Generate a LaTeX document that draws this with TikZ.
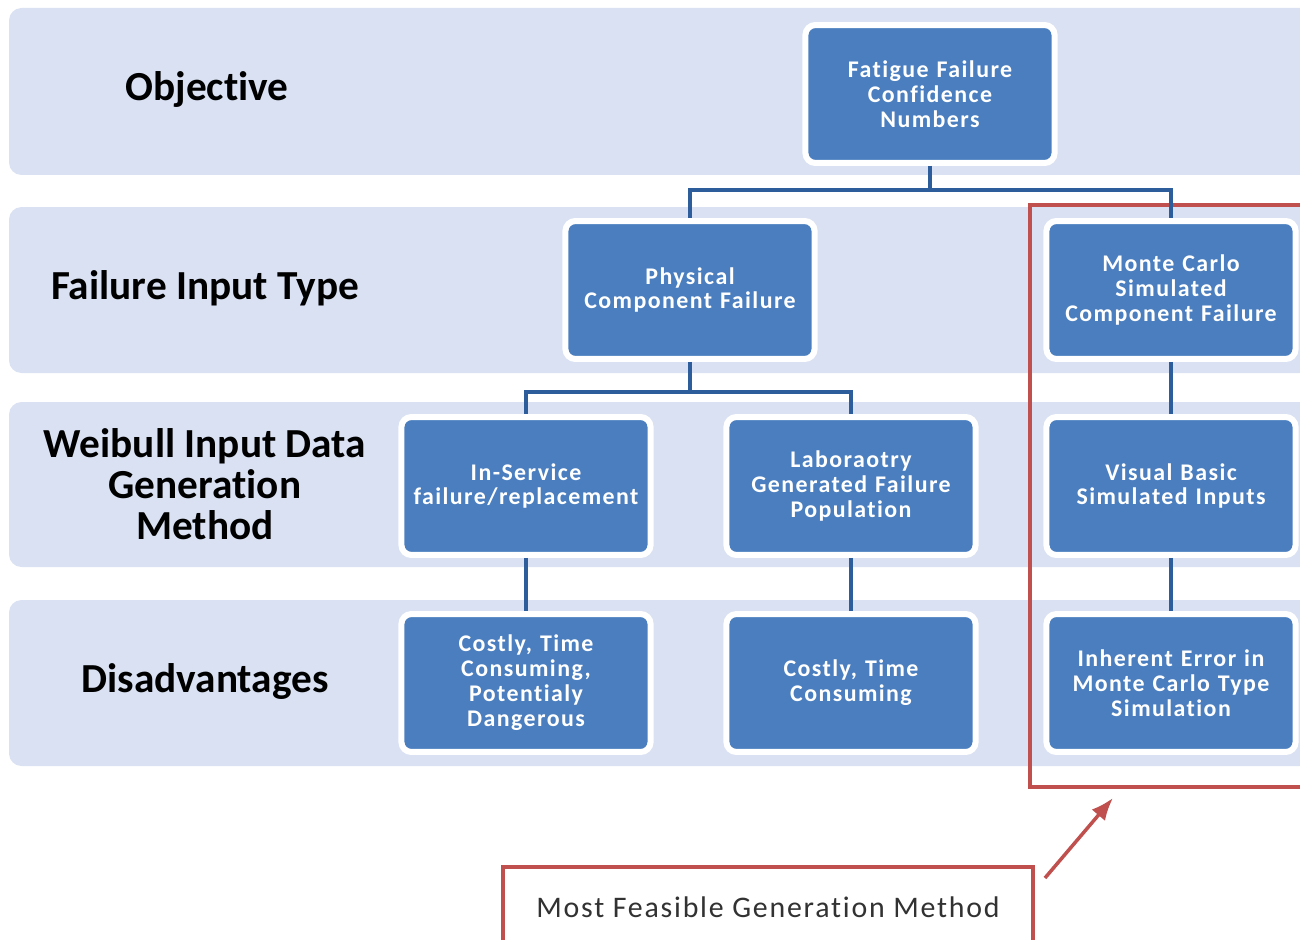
\documentclass[tikz,border=0pt]{standalone}
\usepackage{fontspec}
\setmainfont[Ligatures=NoCommon]{Carlito}
\newfontfamily\spacedfont[LetterSpace=6, Ligatures=NoCommon]{Carlito}
\usepackage{xcolor}
\definecolor{bandcol}{RGB}{217,225,242}
\definecolor{boxcol}{RGB}{74,126,191}
\definecolor{linecol}{RGB}{46,93,155}
\definecolor{framecol}{RGB}{192,80,77}
\definecolor{notetext}{RGB}{50,50,50}
\tikzset{
	blk/.style={
			draw=white, line width=0.12cm, fill=boxcol, rounded corners=0.2cm,
			minimum width=4.92cm, minimum height=2.76cm, text width=4.75cm,
			align=center, text=white,
			font=\spacedfont\bfseries\fontsize{13.6}{14.2}\selectfont
		}
}
\tikzstyle{band} = [fill=bandcol, rounded corners=0.25cm]
\tikzstyle{rowlbl} = [align=center, font=\bfseries\fontsize{23.5}{23.5}\selectfont]
\tikzstyle{tie} = [draw=linecol, line width=0.08cm]
\tikzstyle{pickframe} = [draw=framecol, line width=0.08cm]
\usetikzlibrary{arrows.meta}

\begin{document}
\begin{tikzpicture}[x=0.02cm, y=-0.02cm]
  \useasboundingbox (0,0) rectangle (1300,939);
  \fill[band] (9,8) rectangle (1330,175);
  \fill[band] (9,207) rectangle (1330,373);
  \fill[band] (9,402) rectangle (1330,567);
  \fill[band] (9,600) rectangle (1330,766);

  \node[rowlbl] (lObj) at (207,90) {Objective};
  \node[rowlbl] (lType) at (205,288) {Failure Input Type};
  \node[rowlbl] (lGen) at (205,484) {Weibull Input Data\\Generation\\Method};
  \node[rowlbl] (lDis) at (205,682) {Disadvantages};

  \node[blk] (obj) at (930,94) {Fatigue Failure\\Confidence\\Numbers};
  \node[blk] (phys) at (690,290) {Physical\\Component Failure};
  \node[blk] (mc) at (1171,290) {Monte Carlo\\Simulated\\Component Failure};
  \node[blk] (insv) at (526,486) {In-Service\\failure/replacement};
  \node[blk] (lab) at (851,486) {Laboraotry\\Generated Failure\\Population};
  \node[blk] (vb) at (1171,486) {Visual Basic\\Simulated Inputs};
  \node[blk] (dis1) at (526,683) {Costly, Time\\Consuming,\\Potentialy\\Dangerous};
  \node[blk] (dis2) at (851,683) {Costly, Time\\Consuming};
  \node[blk] (dis3) at (1171,683) {Inherent Error in\\Monte Carlo Type\\Simulation};

  \node[pickframe, minimum width=5.6cm, minimum height=11.64cm] (pick) at (1170,496) {};
  \node[pickframe, fill=white, minimum width=10.6cm, minimum height=1.6cm,
    text=notetext, font=\spacedfont\fontsize{17}{19}\selectfont] (note) at (768,907)
    {Most Feasible Generation Method};

  \coordinate (j1) at (930,190);
  \coordinate (j2) at (690,392);
  \draw[tie] (obj.south) -- (j1) -| (phys.north);
  \draw[tie] (j1) -| (mc.north);
  \draw[tie] (phys.south) -- (j2) -| (insv.north);
  \draw[tie] (j2) -| (lab.north);
  \draw[tie] (insv) -- (dis1);
  \draw[tie] (lab) -- (dis2);
  \draw[tie] (mc) -- (vb);
  \draw[tie] (vb) -- (dis3);

  \draw[draw=framecol, line width=0.07cm, -{Latex[length=0.45cm, width=0.35cm]}]
    ([xshift=0.2cm, yshift=-0.26cm]note.north east) -- ([xshift=1.7cm, yshift=-0.18cm]pick.south west);
\end{tikzpicture}
\end{document}
